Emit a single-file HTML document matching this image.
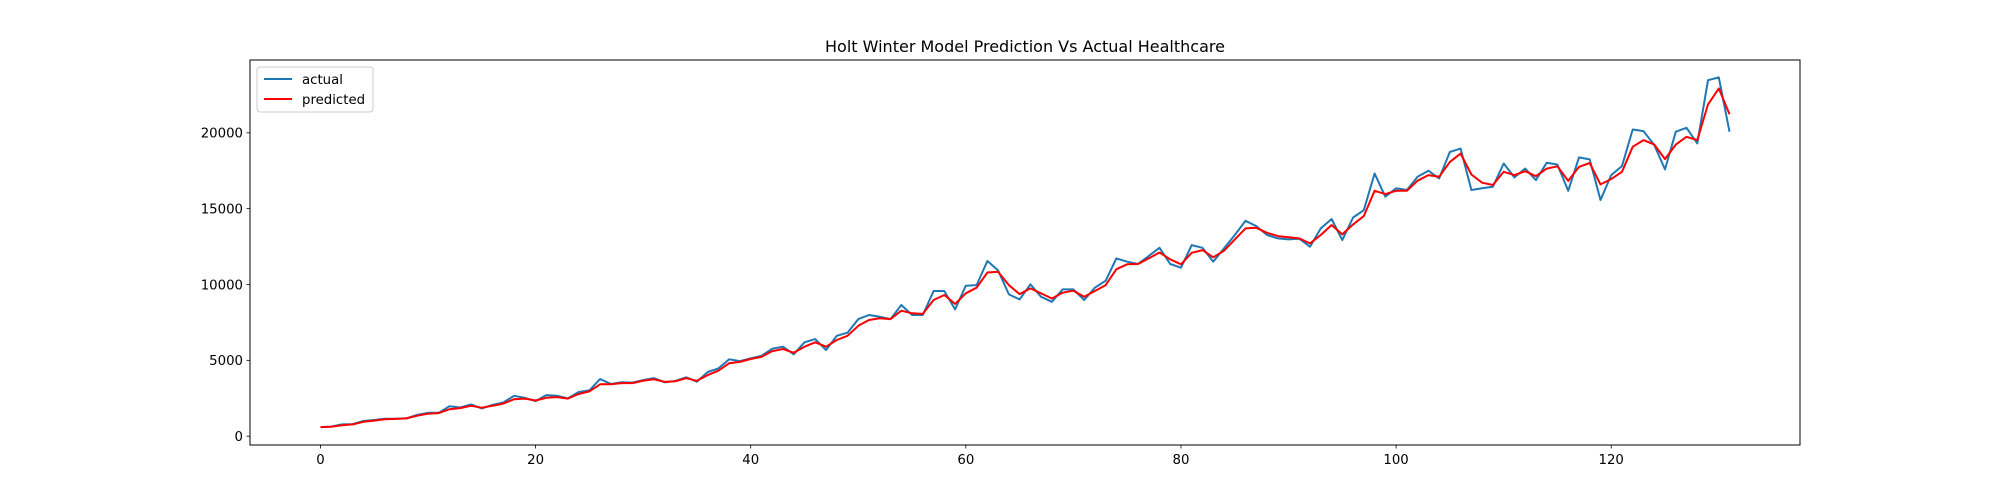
<!DOCTYPE html>
<html><head><meta charset="utf-8"><style>
html,body{margin:0;padding:0;background:#fff;}
svg{display:block;font-family:"DejaVu Sans","Liberation Sans",sans-serif;}
</style></head><body>
<svg id="chart" width="2000" height="500" xmlns="http://www.w3.org/2000/svg">
<rect x="0" y="0" width="2000" height="500" fill="#fff"/>
<text x="1025" y="52" font-size="16" text-anchor="middle" fill="#000">Holt Winter Model Prediction Vs Actual Healthcare</text>
<g id="plot"></g>
</svg>
<script>
const actual = [600,630,780,800,1000,1065,1150,1150,1180,1410,1540,1540,1980,1890,2090,1830,2070,2220,2660,2530,2310,2710,2660,2500,2910,3020,3770,3440,3550,3530,3700,3830,3550,3640,3880,3590,4230,4470,5070,4950,5130,5300,5770,5900,5400,6190,6400,5680,6620,6820,7720,7990,7880,7710,8650,7990,7990,9570,9570,8360,9920,9960,11550,10930,9350,9020,10010,9190,8860,9680,9680,8980,9790,10250,11720,11500,11350,11880,12420,11350,11110,12600,12420,11500,12380,13260,14200,13850,13260,13040,12970,13020,12490,13700,14320,12930,14420,14900,17320,15790,16340,16230,17100,17500,16990,18740,18960,16230,16340,16450,17980,17060,17650,16880,18020,17910,16180,18380,18250,15570,17210,17810,20220,20110,19190,17590,20070,20330,19300,23470,23650,20070];
const predicted = [600,620,720,780,950,1030,1120,1140,1170,1350,1480,1520,1780,1850,2000,1880,2000,2150,2440,2480,2350,2530,2580,2480,2780,2950,3420,3420,3500,3500,3650,3750,3580,3620,3820,3650,4030,4320,4810,4900,5090,5230,5610,5750,5500,5900,6190,5900,6340,6620,7280,7660,7770,7720,8270,8100,8060,8980,9310,8720,9420,9790,10790,10840,9960,9370,9740,9410,9080,9460,9590,9190,9570,9960,11010,11330,11350,11720,12110,11660,11330,12090,12270,11790,12220,12970,13700,13740,13410,13190,13110,13040,12710,13260,13920,13300,13960,14510,16180,15960,16180,16180,16840,17210,17100,18080,18630,17250,16710,16560,17430,17210,17470,17140,17640,17790,16830,17750,18010,16600,16950,17430,19080,19520,19220,18270,19220,19740,19520,21870,22930,21230];
const xTicks = [0,20,40,60,80,100,120];
const yTicks = [0,5000,10000,15000,20000];

const L=250,R=1800,T=60,B=445;
const xMin=-6.55,xMax=137.55,yMin=-581,yMax=24800;
const xs=v=>L+(v-xMin)/(xMax-xMin)*(R-L);
const ys=v=>B-(v-yMin)/(yMax-yMin)*(B-T);
const NS="http://www.w3.org/2000/svg";
const g=document.getElementById('plot');
function mk(tag,attrs){const e=document.createElementNS(NS,tag);for(const k in attrs)e.setAttribute(k,attrs[k]);g.appendChild(e);return e;}

xTicks.forEach(t=>{
  const l=mk('line',{x1:xs(t),x2:xs(t),y1:B,y2:B+3.5,stroke:'#000','stroke-width':0.8});
  
  
  const tx=mk('text',{x:xs(t),y:B+19,'font-size':13.3,'text-anchor':'middle',fill:'#000'});
  tx.textContent=t;
  
  
});
yTicks.forEach(t=>{
  const l=mk('line',{x1:L-3.5,x2:L,y1:ys(t),y2:ys(t),stroke:'#000','stroke-width':0.8});
  
  
  const tx=mk('text',{x:L-7,y:ys(t)+4.8,'font-size':13.3,'text-anchor':'end',fill:'#000'});
  tx.textContent=t;
  
  
});

function path(arr){return arr.map((v,i)=>(i?'L':'M')+xs(i).toFixed(1)+','+ys(v).toFixed(1)).join('');}
const a=mk('path',{d:path(actual),fill:'none',stroke:'#1f77b4','stroke-width':2,'stroke-linejoin':'round'});


const p=mk('path',{d:path(predicted),fill:'none',stroke:'#ff0000','stroke-width':2,'stroke-linejoin':'round'});



const frame=mk('rect',{x:L,y:T,width:R-L,height:B-T,fill:'none',stroke:'#000','stroke-width':1});



const lg=mk('rect',{x:257,y:67,width:116,height:45,rx:3,fill:'#fff','fill-opacity':0.8,stroke:'#ccc','stroke-width':1});


const l1=mk('line',{x1:264,x2:292,y1:79,y2:79,stroke:'#1f77b4','stroke-width':2});


const t1=mk('text',{x:302,y:84,'font-size':13.3,fill:'#000'});t1.textContent='actual';


const l2=mk('line',{x1:264,x2:292,y1:99,y2:99,stroke:'#ff0000','stroke-width':2});


const t2=mk('text',{x:302,y:104,'font-size':13.3,fill:'#000'});t2.textContent='predicted';


</script>
</body></html>
